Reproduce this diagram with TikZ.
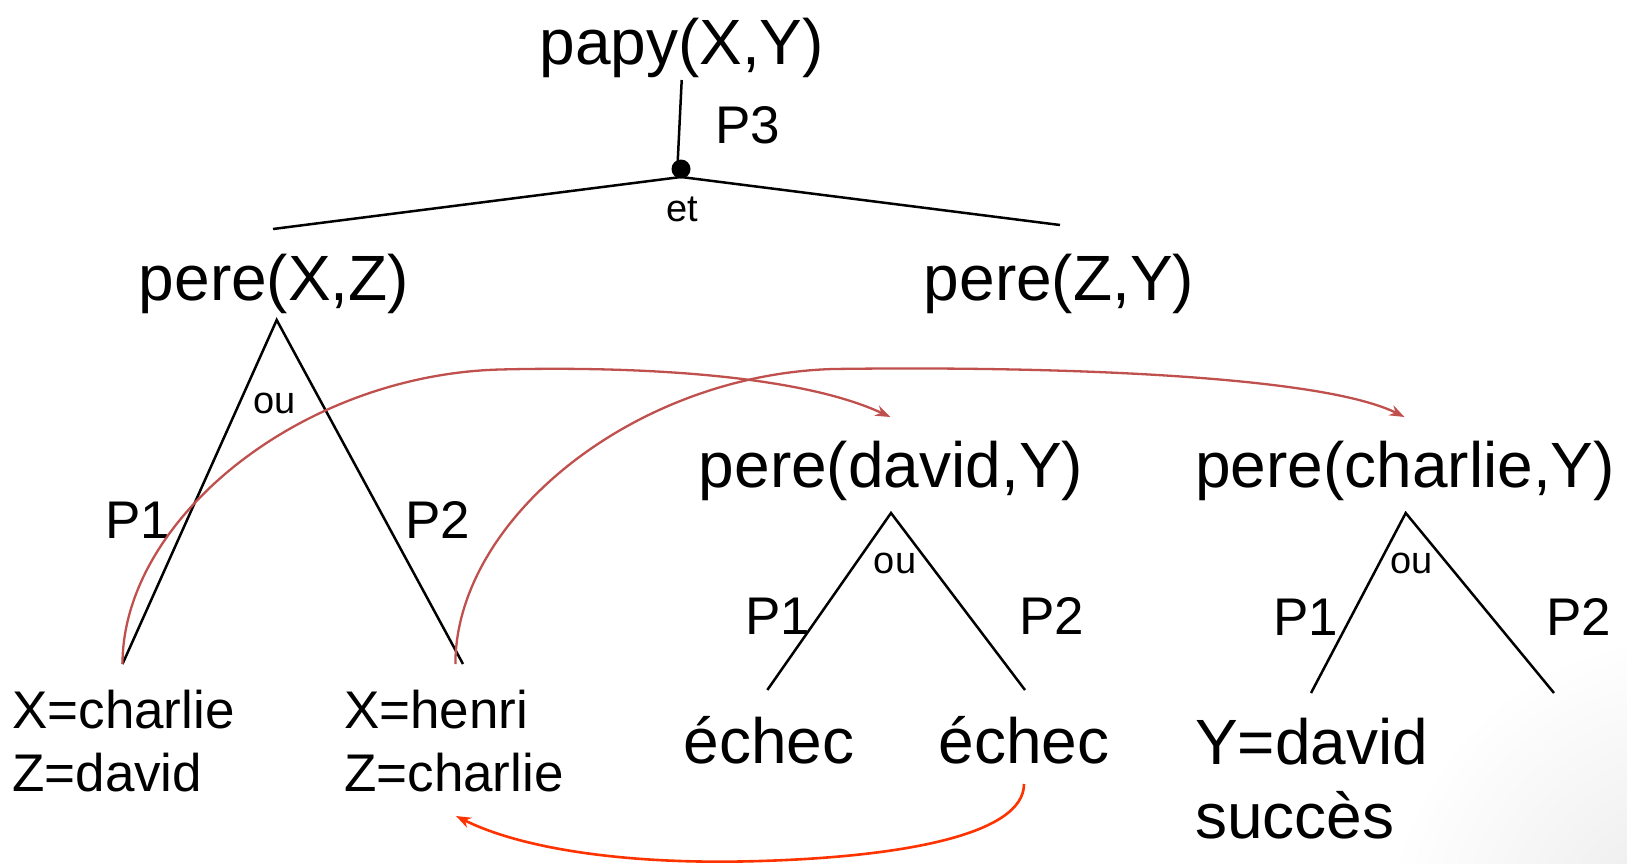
\documentclass[tikz,border=0pt]{standalone}
\usepackage{fontspec}
\setmainfont{Liberation Sans}
\usetikzlibrary{arrows.meta,fadings}
\definecolor{arcred}{RGB}{192,80,77}
\definecolor{backred}{RGB}{255,51,0}
\tikzfading[name=cornerfade, inner color=transparent!30, outer color=transparent!100]
\begin{document}
\begin{tikzpicture}[x=1pt,y=-1pt,
  big/.style={font=\fontsize{64}{70}\selectfont,inner sep=0pt,anchor=base},
  mid/.style={font=\fontsize{53}{58}\selectfont,inner sep=0pt,anchor=base},
  tiny/.style={font=\fontsize{38}{42}\selectfont,inner sep=0pt,anchor=base},
  edge/.style={line width=2.5pt,draw=black},
  trace/.style={line width=2.3pt,draw=arcred,-{Stealth[length=15pt,width=11pt]}},
  backtrack/.style={line width=2.6pt,draw=backred,-{Stealth[length=15pt,width=11pt]}}]
\useasboundingbox (0,0) rectangle (1627,864);
\fill[white] (0,0) rectangle (1627,864);
\begin{scope}
\clip (0,0) rectangle (1627,864);
\fill[black!12, path fading=cornerfade] (1690,940) circle (300);
\end{scope}

% texts
\node[big] (papy) at (681.7,65) {papy(X,Y)};
\node[mid] (p3) at (747.5,143.5) {P3};
\node[tiny] (et) at (682,221.7) {et};
\node[big] (pxz) at (274,300) {pere(X,Z)};
\node[big] (pzy) at (1059,300) {pere(Z,Y)};
\node[tiny] (ou1) at (275,413) {ou};
\node[mid] (p1a) at (137.5,538.3) {P1};
\node[mid] (p2a) at (437.5,538.3) {P2};
\node[mid,anchor=base west] (xc) at (12,728) {X=charlie};
\node[mid,anchor=base west] (zd) at (12,791.7) {Z=david};
\node[mid,anchor=base west] (xh) at (344,728) {X=henri};
\node[mid,anchor=base west] (zc) at (344,791.7) {Z=charlie};
\node[big] (pdy) at (891,487) {pere(david,Y)};
\node[big] (pcy) at (1405,487) {pere(charlie,Y)};
\node[tiny] (ou2) at (895,573.3) {ou};
\node[mid] (p1b) at (777.5,634) {P1};
\node[mid] (p2b) at (1051.7,634) {P2};
\node[big] (ech1) at (769,763) {échec};
\node[big] (ech2) at (1024,763) {échec};
\node[tiny] (ou3) at (1411.7,573) {ou};
\node[mid] (p1c) at (1306,635) {P1};
\node[mid] (p2c) at (1579,635) {P2};
\node[big,anchor=base west] (yd) at (1195,764) {Y=david};
\node[big,anchor=base west] (succ) at (1195,838.3) {succès};

% junction
\coordinate (stemtop) at (681.7,80);
\coordinate (stembot) at (677.5,166);
\node[circle,fill=black,inner sep=0pt,minimum size=19pt] (dot) at (681,169) {};
\coordinate (junc) at (681,177);
\coordinate (etl) at (273,229);
\coordinate (etr) at (1060,225);
\draw[edge] (stemtop) -- (stembot);
\draw[edge] (etl) -- (junc) -- (etr);

% ou trees
\coordinate (a1) at (276.7,320);
\coordinate (l1) at (122.5,664);
\coordinate (r1) at (463,664);
\coordinate (a2) at (891,513);
\coordinate (l2) at (767.3,690);
\coordinate (r2) at (1025,690);
\coordinate (a3) at (1405.7,513);
\coordinate (l3) at (1311,693);
\coordinate (r3) at (1554,693);
\draw[edge] (l1) -- (a1) -- (r1);
\draw[edge] (l2) -- (a2) -- (r2);
\draw[edge] (l3) -- (a3) -- (r3);

% trace arcs
\coordinate (s2) at (455.4,664);
\coordinate (t1) at (890.4,417);
\coordinate (t2) at (1404.5,417);
\coordinate (m1) at (500,369.5);
\coordinate (m2) at (833,369);
\draw[trace] (l1) .. controls (122.5,520) and (300,375) .. (m1)
                  .. controls (640,366) and (800,375) .. (t1);
\draw[trace] (s2) .. controls (455.4,520) and (633,375) .. (m2)
                  .. controls (1050,366) and (1320,375) .. (t2);

% backtracking arrow
\coordinate (b0) at (1024,784);
\coordinate (bm) at (740,861.5);
\coordinate (b1) at (456,816);
\draw[backtrack] (b0) .. controls (1024,835) and (900,858.5) .. (bm)
                      .. controls (620,863.5) and (520,848) .. (b1);
\end{tikzpicture}
\end{document}
